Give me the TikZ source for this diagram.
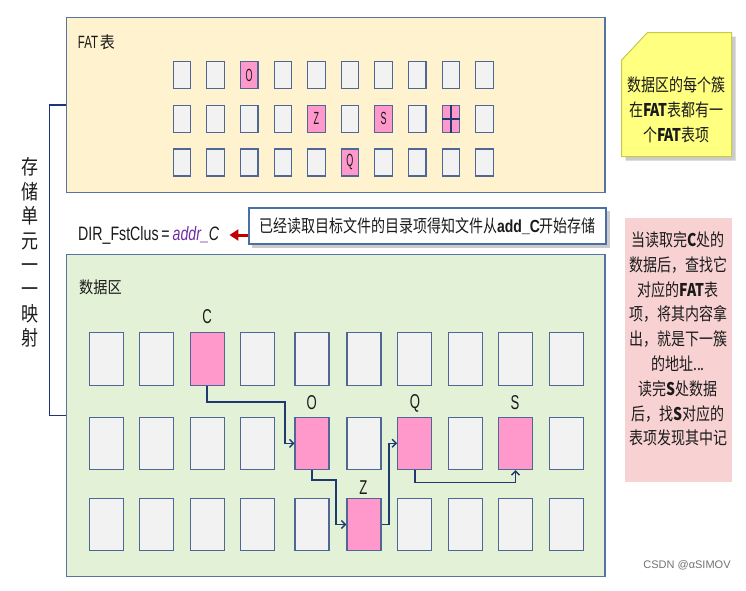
\documentclass[tikz,border=0pt]{standalone}
\usepackage{fontspec}
\usepackage{graphicx}
\setmainfont{Noto Sans CJK SC}
\newfontfamily\narrow[FakeStretch=0.82]{Liberation Sans}
\newfontfamily\lsans{Liberation Sans}
\usetikzlibrary{arrows.meta,calc}
\definecolor{fatfill}{HTML}{FFF2CF}
\definecolor{datafill}{HTML}{E3F1D6}
\definecolor{boxline}{HTML}{5673A3}
\definecolor{cellfill}{HTML}{F2F2F2}
\definecolor{cellline}{HTML}{4E6796}
\definecolor{pinkfill}{HTML}{FF99CC}
\definecolor{navy}{HTML}{1F3A70}
\definecolor{notey}{HTML}{FFFF80}
\definecolor{noteyline}{HTML}{C9C94A}
\definecolor{noter}{HTML}{F8D2D3}
\definecolor{calline}{HTML}{4A6FA5}
\definecolor{redarr}{HTML}{C00000}
\definecolor{purp}{HTML}{7030A0}
\definecolor{txt}{HTML}{1A1A1A}
\newcommand\tall[2]{\scalebox{1}[#1]{#2}}
\newcommand\lb[1]{{\lsans\bfseries #1}}
\begin{document}
\begin{tikzpicture}[x=1pt,y=-1pt,
  region/.style={draw=boxline, line width=1.3pt, inner sep=0, minimum width=538.5pt},
  fcell/.style={draw=cellline, fill=cellfill, line width=1.1pt, minimum width=17.5pt, minimum height=27pt, inner sep=0, text=txt, font=\narrow\fontsize{11}{11}\selectfont},
  fpink/.style={fcell, fill=pinkfill},
  dcell/.style={draw=cellline, fill=cellfill, line width=1.1pt, minimum width=34pt, minimum height=52.5pt, inner sep=0},
  dpink/.style={dcell, fill=pinkfill},
  dlab/.style={inner sep=0, text=txt, font=\narrow\fontsize{16}{16}\selectfont},
  link/.style={draw=navy, line width=1.6pt, -{Straight Barb[length=4pt,width=8pt,line width=1.4pt]}},
  brk/.style={draw=navy!90!blue, line width=1.5pt},
  shadow/.style={fill=black!45, opacity=.45}
]
\useasboundingbox (0,0) rectangle (746,590);
\fill[white] (0,0) rectangle (746,590);

% regions
\node[region, fill=fatfill, minimum height=175pt] (fat) at (335.75,105) {};
\node[region, fill=datafill, minimum height=322.4pt] (data) at (335.75,415.5) {};

\node[anchor=west, inner sep=0, text=txt] (fatl) at (77.7,42) {\tall{1.27}{\narrow\fontsize{14}{14}\selectfont FAT}\,\fontsize{15}{15}\selectfont\tall{1.1}{表}};
\node[anchor=west, inner sep=0, text=txt] (datal) at (79,287) {\fontsize{14.2}{14.2}\selectfont\tall{1.15}{数据区}};

% FAT cells
\foreach \r in {0,1,2} {
  \foreach \c in {0,...,9} {
    \node[fcell] (f-\r-\c) at ({182+33.6*\c},{75.3+43.6*\r}) {};
  }
}
\node[fpink] (fO) at (f-0-2) {\tall{1.6}{O}};
\node[fpink] (fZ) at (f-1-4) {\tall{1.6}{Z}};
\node[fpink] (fS) at (f-1-6) {\tall{1.6}{S}};
\node[fpink] (fX) at (f-1-8) {};
\node[fpink] (fQ) at (f-2-5) {\tall{1.6}{Q}};
\draw[navy, line width=1.5pt] (fX.north) -- (fX.south) (fX.west) -- (fX.east);

% data cells
\foreach \x [count=\c] in {106.3,156.8,207.2,257.5,312,364,414.7,465.2,515.5,566.3} {
  \foreach \y [count=\r] in {359,443.3,524.5} {
    \node[dcell] (d-\r-\c) at (\x,\y) {};
  }
}
\node[dpink] (dC) at (d-1-3) {};
\node[dpink] (dO) at (d-2-5) {};
\node[dpink] (dQ) at (d-2-7) {};
\node[dpink] (dS) at (d-2-9) {};
\node[dpink] (dZ) at (d-3-6) {};

\node[dlab] (lC) at (207,317) {\tall{1.25}{C}};
\node[dlab] (lO) at (311.7,403) {\tall{1.25}{O}};
\node[dlab] (lQ) at (415,403) {\tall{1.25}{Q}};
\node[dlab] (lS) at (515,403) {\tall{1.25}{S}};
\node[dlab] (lZ) at (363.3,487.3) {\tall{1.25}{Z}};

% chain arrows
\draw[link] (dC.south) |- (285,401.7) |- (dO.west);
\draw[link] (dO.south) |- (335.7,480) |- (dZ.west);
\draw[link] (dZ.east) -- ++(7.7,0) |- (dQ.west);
\draw[link] (dQ.south) -- ++(0,12.4) -| (dS.south);

% bracket and side text
\draw[brk] (fat.west) -- ++(-16.5,0) |- (data.west);
\node[align=center, text=txt, font=\fontsize{17}{20.4}\selectfont, yscale=1.2, transform shape] (side) at (30,252.5) {存\\储\\单\\元\\一\\一\\映\\射};

% DIR line and callout
\node[anchor=west, inner sep=0, text=txt] (dir) at (78,235) {\narrow\fontsize{17.3}{17.3}\selectfont\tall{1.12}{DIR\_FstClus\,=\,\textcolor{purp}{\itshape addr\_}\textit{C}}};
\fill[shadow] (252,211) rectangle (610,248);
\node[draw=calline, fill=white, line width=1.2pt, minimum width=357pt, minimum height=36pt, inner sep=0, text=txt] (call) at (427.5,226) {\fontsize{14}{14}\selectfont\tall{1.25}{已经读取目标文件的目录项得知文件从\lb{add\_C}开始存储}};
\draw[redarr, line width=3pt, -{Triangle[length=9pt,width=11pt]}] (call.west |- dir.east) -- ([xshift=10pt]dir.east);

% yellow note
\fill[shadow] (651.3,36.7) -- (735.7,36.7) -- (735.7,160.7) -- (625.7,160.7) -- (625.7,64) -- cycle;
\draw[noteyline, fill=notey, line width=1pt] (647.3,32.7) -- (731.7,32.7) -- (731.7,156.7) -- (621.7,156.7) -- (621.7,60) -- cycle;
\node[align=center, text=txt, font=\fontsize{14}{20}\selectfont, yscale=1.25, transform shape] (ytext) at (676.5,110) {数据区的每个簇\\在\textbf{FAT}表都有一\\个\textbf{FAT}表项};

% red note
\node[fill=noter, minimum width=107pt, minimum height=264pt, inner sep=0] (rnote) at (678.5,350) {};
\node[align=center, text=txt, font=\fontsize{14}{19.84}\selectfont, yscale=1.25, transform shape] (rtext) at (678,339) {当读取完\textbf{C}处的\\数据后，查找它\\对应的\textbf{FAT}表\\项，将其内容拿\\出，就是下一簇\\的地址...\\读完\textbf{S}处数据\\后，找\textbf{S}对应的\\表项发现其中记};

\node[font=\lsans\fontsize{11}{11}\selectfont, text=black!55] (mark) at (687,565) {CSDN @αSIMOV};
\end{tikzpicture}
\end{document}
